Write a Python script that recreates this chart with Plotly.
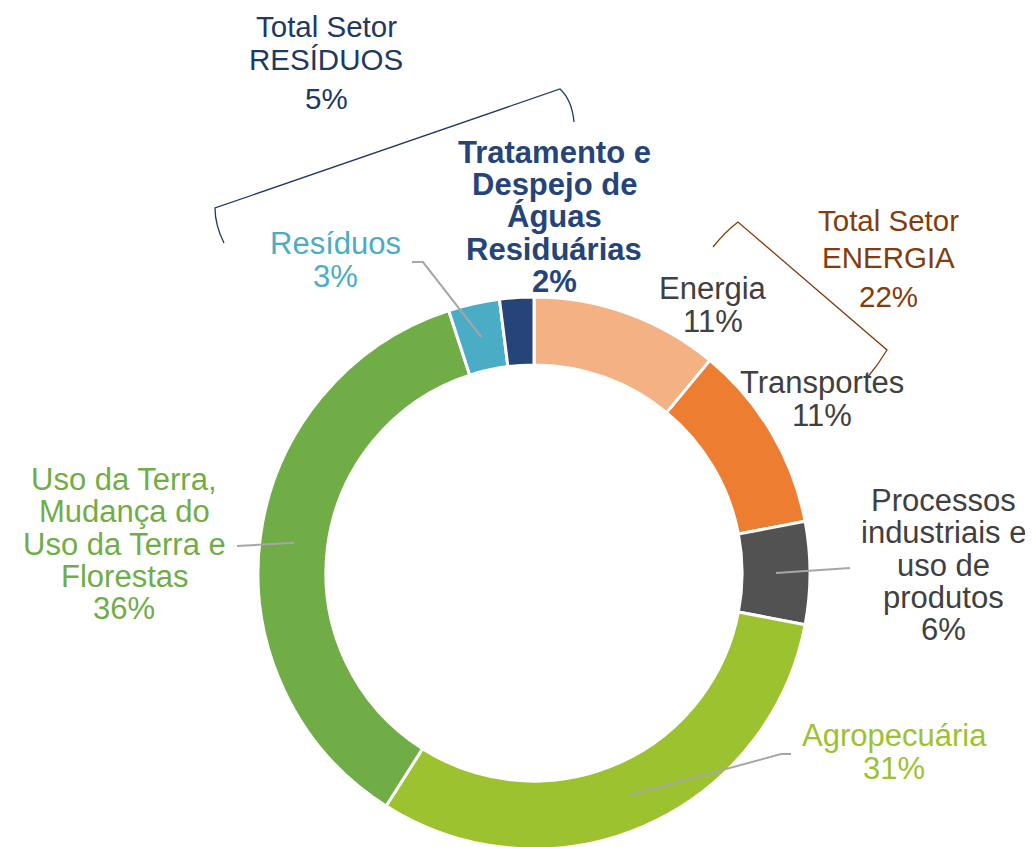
import plotly.graph_objects as go
import numpy as np

W, H = 1033, 847
OFF = 8  # page body margin

# data
labels = ['Energia', 'Transportes', 'Processos industriais e uso de produtos',
          'Agropecuária', 'Uso da Terra, Mudança do Uso da Terra e Florestas',
          'Resíduos', 'Tratamento e Despejo de Águas Residuárias']
values = [11, 11, 6, 31, 36, 3, 2]
colors = ['#F4B183', '#ED7D31', '#525252', '#9DC230', '#70AD47', '#4BACC6', '#264478']

label_lines = [['Energia', '11%'], ['Transportes', '11%'],
               ['Processos', 'industriais e', 'uso de', 'produtos', '6%'],
               ['Agropecuária', '31%'],
               ['Uso da Terra,', 'Mudança do', 'Uso da Terra e', 'Florestas', '36%'],
               ['Resíduos', '3%'],
               ['Tratamento e', 'Despejo de', 'Águas', 'Residuárias', '2%']]
label_colors = ['#404040', '#404040', '#404040', '#9DC230', '#70AD47', '#4BACC6', '#264478']

sector_totals = [['Total Setor', 'RESÍDUOS', '5%'], ['Total Setor', 'ENERGIA', '22%']]
sector_colors = ['#203864', '#843C0C']


def px(x):
    return (x - OFF) / W


def py(y):
    return 1 - (y - OFF) / H


# pie geometry in pixels
cx, cy, r_out = 534, 573, 276
r_mid = 242

fig = go.Figure(go.Pie(
    labels=labels, values=values, hole=0.754, sort=False, direction='clockwise',
    rotation=0, textinfo='none', showlegend=False,
    marker=dict(colors=colors, line=dict(color='white', width=3)),
    domain=dict(x=[px(cx - r_out), px(cx + r_out)], y=[py(cy + r_out), py(cy - r_out)]),
))

# label positions (centre of text block) in pixels
label_pos = [(713, 305), (822, 399), (943, 565), (894, 752), (124, 544), (335, 260), (554, 217)]
spacing = 32.4
for i, ((x, y), lines, c) in enumerate(zip(label_pos, label_lines, label_colors)):
    n = len(lines)
    for k, t in enumerate(lines):
        ly = y + (k - (n - 1) / 2) * spacing
        fig.add_annotation(x=px(x), y=py(ly), xref='paper', yref='paper',
                           text=f'<b>{t}</b>' if i == 6 else t,
                           showarrow=False, xanchor='center', yanchor='middle',
                           font=dict(size=31, color=c, family='Liberation Sans'))

# totals per sector
total_pos = [(326, [27, 60, 98]), (888, [220, 257, 296])]
for (x, ys), lines, c in zip(total_pos, sector_totals, sector_colors):
    for y, t in zip(ys, lines):
        fig.add_annotation(x=px(x), y=py(y), xref='paper', yref='paper', text=t,
                           showarrow=False, xanchor='center', yanchor='middle',
                           font=dict(size=29.5, color=c, family='Liberation Sans'))

# leader lines: from label to middle of slice
cum = np.cumsum([0] + values)
mid_ang = (cum[:-1] + np.array(values) / 2) / sum(values) * 2 * np.pi
leaders = {2: [(850, 568)], 3: [(791, 754), (781, 754)], 4: [(237, 546)], 5: [(412, 262), (423, 262)]}
for i, pts in leaders.items():
    ex = cx + r_mid * np.sin(mid_ang[i])
    ey = cy - r_mid * np.cos(mid_ang[i])
    pts = pts + [(ex, ey)]
    path = 'M ' + ' L '.join(f'{px(a):.4f},{py(b):.4f}' for a, b in pts)
    fig.add_shape(type='path', path=path, xref='paper', yref='paper',
                  line=dict(color='#A6A6A6', width=2))


# brackets
def bracket(p0, c0, p1, p2, c1, p3):
    return (f'M {px(p0[0])},{py(p0[1])} Q {px(c0[0])},{py(c0[1])} {px(p1[0])},{py(p1[1])} '
            f'L {px(p2[0])},{py(p2[1])} Q {px(c1[0])},{py(c1[1])} {px(p3[0])},{py(p3[1])}')


fig.add_shape(type='path', xref='paper', yref='paper',
              path=bracket((224, 243), (215, 225), (215, 208), (560, 89), (572, 100), (574, 122)),
              line=dict(color='#203864', width=1.3))
fig.add_shape(type='path', xref='paper', yref='paper',
              path=bracket((713, 247), (725, 232), (738, 222), (887, 350), (878, 365), (867, 378)),
              line=dict(color='#843C0C', width=1.3))

fig.update_layout(width=W, height=H, margin=dict(l=0, r=0, t=0, b=0),
                  paper_bgcolor='white', plot_bgcolor='white')

fig.write_html('out.html')
